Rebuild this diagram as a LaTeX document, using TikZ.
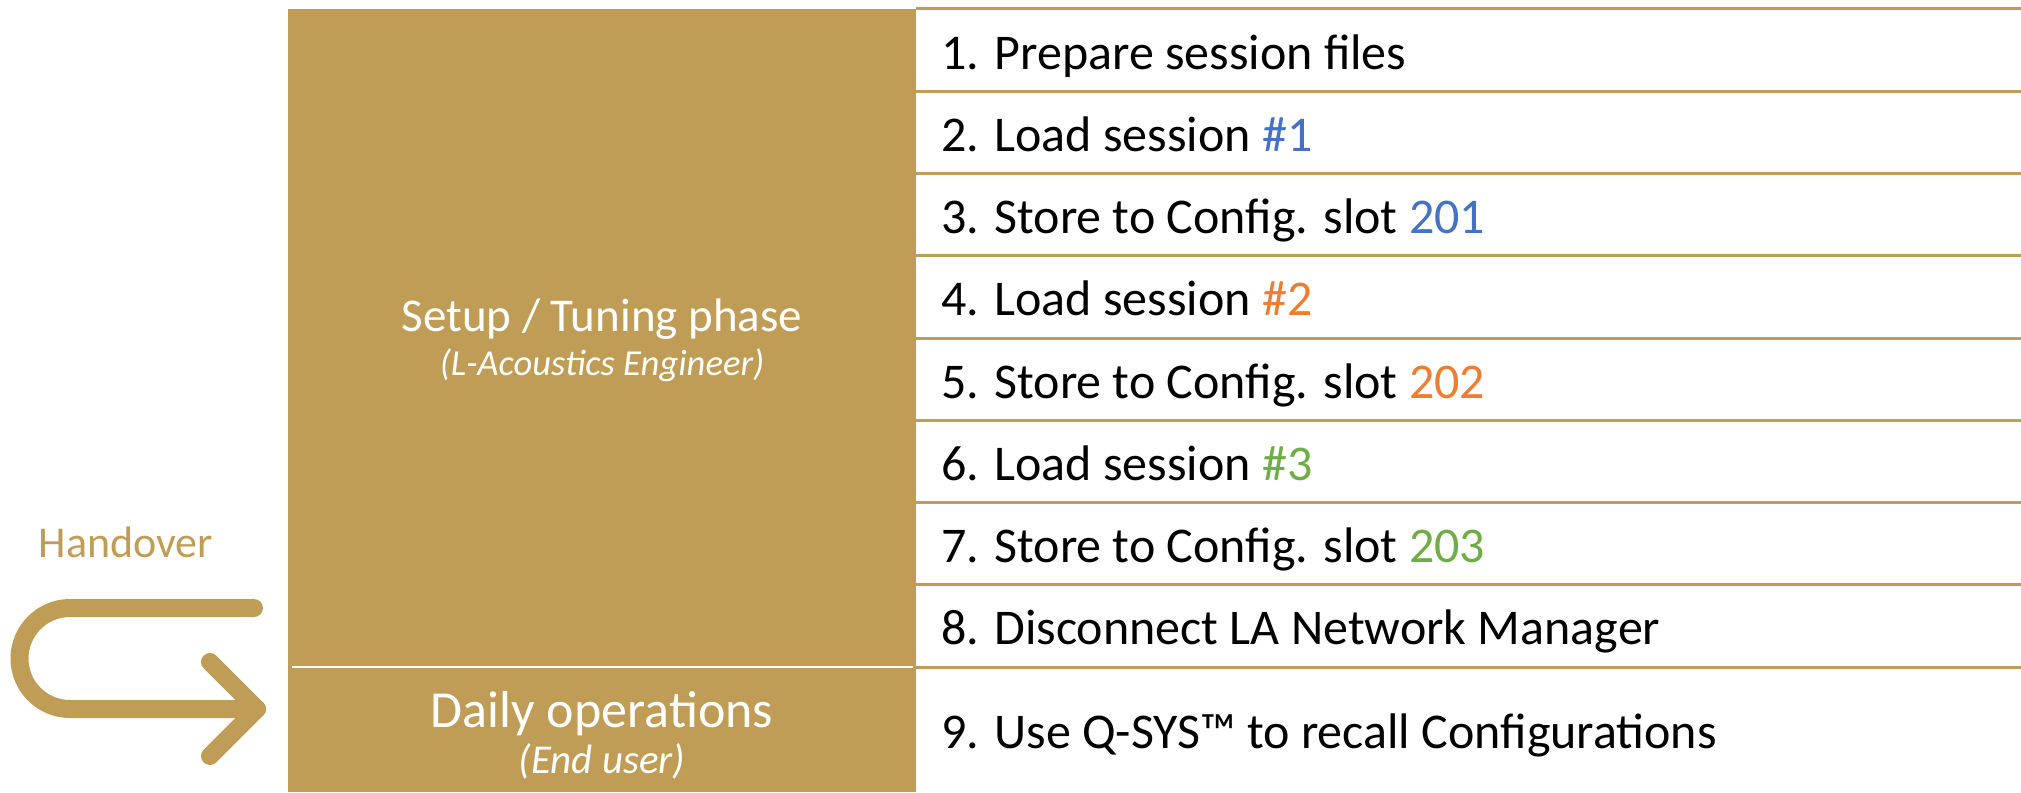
\documentclass[tikz,border=0pt]{standalone}
\usepackage{fontspec}
\setmainfont{Carlito}
\definecolor{gold}{RGB}{191,157,86}
\definecolor{cblue}{RGB}{68,114,196}
\definecolor{corange}{RGB}{237,125,49}
\definecolor{cgreen}{RGB}{112,173,71}
\tikzset{
  panel/.style={fill=gold, draw=none, inner sep=0pt, anchor=north west},
  rowtext/.style={anchor=base west, inner sep=0pt, font=\fontsize{25}{30}\selectfont, text=black},
  lefttitle/.style={anchor=base, inner sep=0pt, text=white},
  leftsub/.style={anchor=base, inner sep=0pt, text=white},
  rowline/.style={draw=gold, line width=1.5pt},
  handarrow/.style={draw=gold, line width=9pt, line cap=round, line join=round}
}
\begin{document}
\begin{tikzpicture}[x=0.5pt,y=-0.5pt]
\useasboundingbox (0,0) rectangle (2021,792);
% gold panels
\node[panel, minimum width=314pt, minimum height=329pt] (setuppanel) at (288,9) {};
\node[panel, minimum width=314pt, minimum height=62.5pt] (dailypanel) at (288,667) {};
\draw[white, line width=1.2pt] (292,667) -- (913,667);
% row lines
\foreach \i in {0,...,8} {
  \draw[rowline] (916,{9+82.25*\i}) -- (2021,{9+82.25*\i});
}
% row texts
\node[rowtext] (r1) at (941,{9+60}) {1. Prepare session files};
\node[rowtext] (r2) at (941,{9+82.25+60}) {2. Load session \textcolor{cblue}{\#1}};
\node[rowtext] (r3) at (941,{9+2*82.25+60}) {3. Store to Config. slot \textcolor{cblue}{201}};
\node[rowtext] (r4) at (941,{9+3*82.25+60}) {4. Load session \textcolor{corange}{\#2}};
\node[rowtext] (r5) at (941,{9+4*82.25+60}) {5. Store to Config. slot \textcolor{corange}{202}};
\node[rowtext] (r6) at (941,{9+5*82.25+60}) {6. Load session \textcolor{cgreen}{\#3}};
\node[rowtext] (r7) at (941,{9+6*82.25+60}) {7. Store to Config. slot \textcolor{cgreen}{203}};
\node[rowtext] (r8) at (941,{9+7*82.25+60}) {8. Disconnect LA Network Manager};
\node[rowtext] (r9) at (941,748) {9. Use Q-SYS™ to recall Configurations};
% left texts
\node[lefttitle, font=\fontsize{23.5}{28}\selectfont] (setup) at (602,331) {Setup / Tuning phase};
\node[leftsub, font=\fontsize{18.3}{22}\selectfont\itshape] (setupsub) at (602,375) {(L-Acoustics Engineer)};
\node[lefttitle, font=\fontsize{26}{31}\selectfont] (daily) at (602,727) {Daily operations};
\node[leftsub, font=\fontsize{20.5}{24}\selectfont\itshape] (dailysub) at (602,773) {(End user)};
% handover
\node[anchor=base, inner sep=0pt, font=\fontsize{22}{26}\selectfont, text=gold] (hand) at (126,557) {Handover};
\coordinate (astart) at (254,608);
\coordinate (atip) at (257,709);
\draw[handarrow] (astart) -- (70,608) arc[start angle=90, end angle=270, radius=25.25pt] -- (atip);
\draw[handarrow] (210,662) -- (atip) -- (210,756);
\end{tikzpicture}
\end{document}
